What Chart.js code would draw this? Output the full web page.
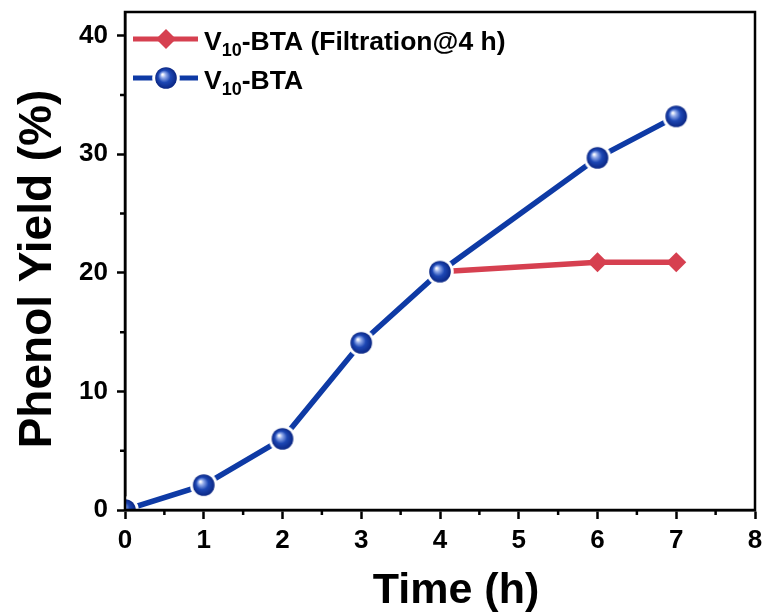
<!DOCTYPE html>
<html>
<head>
<meta charset="utf-8">
<script src="https://cdn.jsdelivr.net/npm/chart.js@4.4.1/dist/chart.umd.min.js"></script>
<style>
  body { margin: 0; background: #fff; }
  canvas { display: block; }
</style>
</head>
<body>
<canvas id="yieldChart" width="766" height="615"></canvas>
<script>
// data
const timeBTA = [0, 1, 2, 3, 4, 6, 7];
const yieldBTA = [0, 2.1, 6.0, 14.1, 20.1, 29.7, 33.2];
const timeFiltr = [4, 6, 7];
const yieldFiltr = [20.1, 20.9, 20.9];
const xTicks = [0, 1, 2, 3, 4, 5, 6, 7, 8];
const yTicks = [0, 10, 20, 30, 40];
const legendNames = ['-BTA (Filtration@4 h)', '-BTA'];

const blue = 'rgb(14, 58, 165)';
const red = 'rgb(214, 64, 80)';
const sans = "'Liberation Sans', Arial, sans-serif";

// shiny sphere marker with a white ring (gives the gap in the line)
function makeSphere() {
  const c = document.createElement('canvas');
  c.width = 28; c.height = 28;
  const g = c.getContext('2d');
  g.fillStyle = '#fff';
  g.beginPath(); g.arc(14, 14, 13.8, 0, Math.PI * 2); g.fill();
  const grad = g.createRadialGradient(10.5, 10.5, 0.5, 14, 14, 10.8);
  grad.addColorStop(0, '#ffffff');
  grad.addColorStop(0.22, '#8fa8e8');
  grad.addColorStop(0.55, '#1d47b4');
  grad.addColorStop(1, '#0a2683');
  g.fillStyle = grad;
  g.beginPath(); g.arc(14, 14, 10.8, 0, Math.PI * 2); g.fill();
  return c;
}
const sphere = makeSphere();

// frame, minor ticks, axis titles, legend
const decorPlugin = {
  id: 'decor',
  afterDraw(chart) {
    const ctx = chart.ctx;
    const a = chart.chartArea;
    const xs = chart.scales.x, ys = chart.scales.y;
    ctx.save();
    ctx.strokeStyle = '#000';
    ctx.lineWidth = 2.5;
    ctx.strokeRect(a.left, a.top, a.right - a.left, a.bottom - a.top);

    // minor ticks
    ctx.beginPath();
    for (let i = 0; i < xTicks.length - 1; i++) {
      const px = xs.getPixelForValue((xTicks[i] + xTicks[i + 1]) / 2);
      ctx.moveTo(px, a.bottom); ctx.lineTo(px, a.bottom + 5);
    }
    for (let i = 0; i < yTicks.length - 1; i++) {
      const py = ys.getPixelForValue((yTicks[i] + yTicks[i + 1]) / 2);
      ctx.moveTo(a.left, py); ctx.lineTo(a.left - 5, py);
    }
    ctx.stroke();

    // axis titles
    ctx.fillStyle = '#000';
    ctx.font = 'bold 43px ' + sans;
    ctx.textAlign = 'center';
    ctx.textBaseline = 'alphabetic';
    ctx.fillText('Time (h)', 456, 603);
    ctx.save();
    ctx.translate(51, 269);
    ctx.rotate(-Math.PI / 2);
    ctx.font = 'bold 46px ' + sans;
    ctx.fillText('Phenol Yield (%)', 0, 0);
    ctx.restore();

    // legend
    const rows = [
      { y: 39, color: red, marker: 'diamond', name: legendNames[0] },
      { y: 78, color: blue, marker: 'sphere', name: legendNames[1] }
    ];
    rows.forEach(r => {
      ctx.strokeStyle = r.color;
      ctx.lineWidth = 5;
      ctx.beginPath(); ctx.moveTo(133, r.y); ctx.lineTo(198, r.y); ctx.stroke();
      if (r.marker === 'diamond') {
        ctx.fillStyle = r.color;
        ctx.beginPath();
        ctx.moveTo(166, r.y - 10); ctx.lineTo(176, r.y);
        ctx.lineTo(166, r.y + 10); ctx.lineTo(156, r.y);
        ctx.closePath(); ctx.fill();
      } else {
        ctx.drawImage(sphere, 166 - 14, r.y - 14);
      }
      ctx.fillStyle = '#000';
      ctx.textAlign = 'left';
      ctx.font = 'bold 26.5px ' + sans;
      const base = r.y + 11;
      ctx.fillText('V', 204, base);
      let x = 204 + ctx.measureText('V').width;
      ctx.font = 'bold 18px ' + sans;
      ctx.fillText('10', x, base + 6);
      x += ctx.measureText('10').width;
      ctx.font = 'bold 26.5px ' + sans;
      ctx.fillText(r.name, x, base);
    });
    ctx.restore();
  }
};

new Chart(document.getElementById('yieldChart'), {
  type: 'line',
  data: {
    datasets: [
      {
        label: 'V10-BTA (Filtration@4 h)',
        data: timeFiltr.map((t, i) => ({ x: t, y: yieldFiltr[i] })),
        borderColor: red,
        backgroundColor: red,
        borderWidth: 5.5,
        pointStyle: 'rectRot',
        pointRadius: 10,
        pointBorderWidth: 0,
        order: 0,
        clip: 0
      },
      {
        label: 'V10-BTA',
        data: timeBTA.map((t, i) => ({ x: t, y: yieldBTA[i] })),
        borderColor: blue,
        backgroundColor: blue,
        borderWidth: 5.5,
        pointStyle: sphere,
        order: -1,
        clip: 0
      }
    ]
  },
  options: {
    responsive: false,
    animation: false,
    layout: { padding: { top: 12, right: 11, left: 0, bottom: 0 } },
    plugins: {
      legend: { display: false },
      tooltip: { enabled: false }
    },
    scales: {
      x: {
        type: 'linear',
        min: 0,
        max: 8,
        afterFit: s => { s.height = 105; s.paddingLeft = 0; s.paddingRight = 0; },
        afterBuildTicks: s => { s.ticks = xTicks.map(v => ({ value: v })); },
        ticks: {
          color: '#000',
          padding: 6,
          font: { family: sans, size: 26, weight: 'bold' }
        },
        grid: {
          drawOnChartArea: false,
          color: '#000',
          tickLength: 9,
          tickWidth: 2.5
        },
        border: { color: '#000', width: 2.5 }
      },
      y: {
        min: 0,
        max: 42,
        afterFit: s => { s.width = 125; s.paddingTop = 0; s.paddingBottom = 0; },
        afterBuildTicks: s => { s.ticks = yTicks.map(v => ({ value: v })); },
        ticks: {
          color: '#000',
          padding: 9,
          font: { family: sans, size: 26, weight: 'bold' }
        },
        grid: {
          drawOnChartArea: false,
          color: '#000',
          tickLength: 8,
          tickWidth: 2.5
        },
        border: { color: '#000', width: 2.5 }
      }
    }
  },
  plugins: [decorPlugin]
});
</script>
</body>
</html>
